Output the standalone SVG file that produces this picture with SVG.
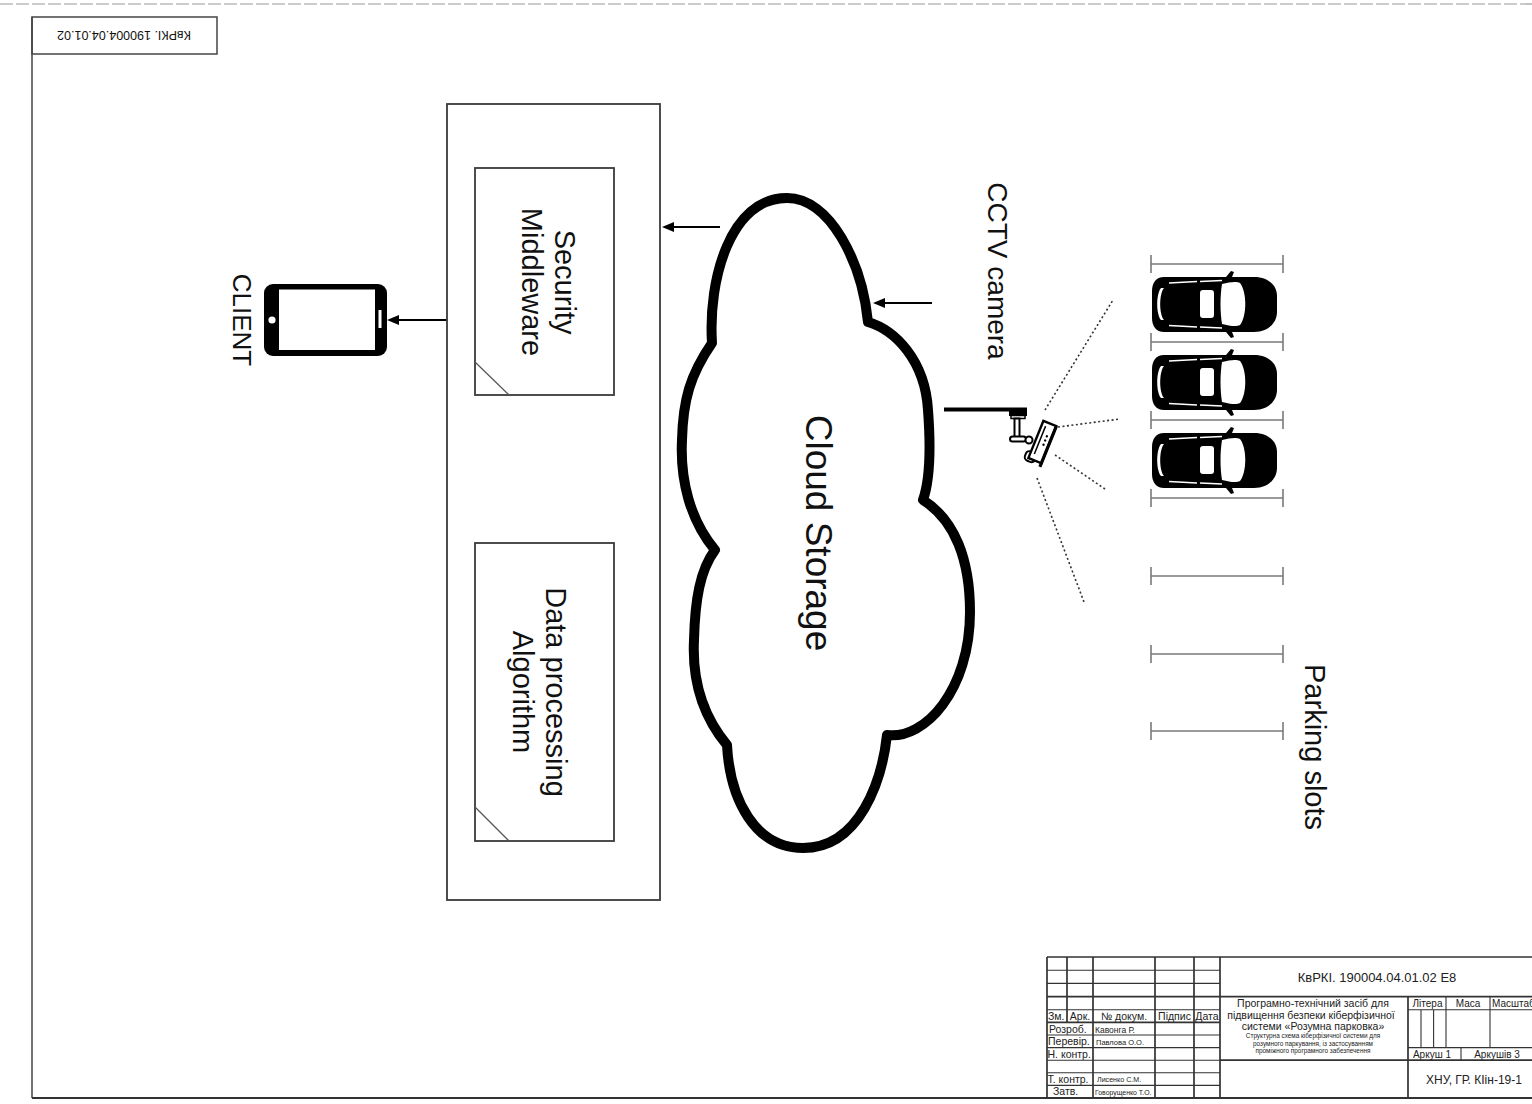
<svg xmlns="http://www.w3.org/2000/svg" xmlns:xlink="http://www.w3.org/1999/xlink" width="1532" height="1104" viewBox="0 0 1532 1104">
  <style>
    .lbl { font-family: "Liberation Sans", Arial, sans-serif; fill: #111; }
    .box { fill: #fff; stroke: #3a3a3a; stroke-width: 1.8; }
    .frame { fill: none; stroke: #444; stroke-width: 1.5; }
    .link { stroke: #000; stroke-width: 2; fill: none; }
    .view { stroke: #333; stroke-width: 1.6; stroke-dasharray: 2 2.5; fill: none; }
    .slot { stroke: #7a7a7a; stroke-width: 1.6; fill: none; }
    .tb { stroke: #333; stroke-width: 1.1; fill: none; }
    .tbb { stroke: #333; stroke-width: 1.7; fill: none; }
    .tt { font-family: "Liberation Sans", Arial, sans-serif; fill: #222; }
  </style>
  <defs>
    <marker id="arr" markerUnits="userSpaceOnUse" markerWidth="12" markerHeight="10" refX="0" refY="5" orient="auto">
      <path d="M0,0 L12,5 L0,10 Z" fill="#000"/>
    </marker>
    <!-- top view of a parked car, nose to the right -->
    <g id="car">
      <path d="M-50,-27 L40,-27 C55,-27 63,-18 63,-8 L63,8 C63,18 55,28 40,28 L-50,28 C-58,28 -62,22 -62,14 L-62,-13 C-62,-21 -58,-27 -50,-27 Z" fill="#000"/>
      <path d="M12,-27 L17,-33 L20,-32 L18,-27 Z M12,28 L17,34 L20,33 L18,28 Z" fill="#000"/>
      <path d="M8,-20 C16,-22 22,-23 26,-21 C33,-12 33,12 26,21 C22,23 16,22 8,20 C6,8 6,-8 8,-20 Z" fill="#fff"/>
      <rect x="-14" y="-14" width="14" height="28" rx="3" fill="#fff"/>
      <path d="M-50,-16 C-55,-10 -55,10 -50,16 L-53,16 C-58,10 -58,-10 -53,-16 Z" fill="#fff"/>
      <path d="M-45,-21 L-17,-22.5 M-14,-22.5 L8,-23.5 M-45,21.5 L-17,23 M-14,23 L8,24" stroke="#fff" stroke-width="1.6" fill="none"/>
    </g>
  </defs>

  <!-- sheet border -->
  <g id="sheet">
    <line x1="0" y1="4" x2="1532" y2="4" stroke="#999" stroke-width="1.2" stroke-dasharray="13 3"/>
    <line x1="32" y1="17" x2="32" y2="1098" class="frame"/>
    <line x1="32" y1="1098" x2="1532" y2="1098" stroke="#333" stroke-width="2.2"/>
    <rect x="32" y="17" width="185" height="37" class="frame"/>
    <text class="lbl" x="124" y="39.5" font-size="12.5" text-anchor="middle" transform="rotate(180 124 35)">КвРКІ. 190004.04.01.02</text>
  </g>

  <!-- connectors -->
  <g id="connectors">
    <line x1="447" y1="320" x2="399" y2="320" class="link" marker-end="url(#arr)"/>
    <line x1="720" y1="227" x2="674" y2="227" class="link" marker-end="url(#arr)"/>
    <line x1="932" y1="303" x2="885" y2="303" class="link" marker-end="url(#arr)"/>
  </g>

  <!-- client device -->
  <g id="client">
    <rect x="264" y="284" width="123" height="72" rx="9" fill="#000"/>
    <rect x="279" y="289.5" width="96" height="60.5" fill="#fff"/>
    <circle cx="272" cy="320" r="3.6" fill="#fff"/>
    <rect x="378.5" y="310" width="3" height="18" fill="#fff"/>
    <text class="lbl" font-size="26" text-anchor="middle" transform="translate(233 320) rotate(90)">CLIENT</text>
  </g>

  <!-- server side container -->
  <g id="server">
    <rect x="447" y="104" width="213" height="796" class="box" stroke-width="1.6"/>
  </g>

  <g id="security-middleware">
    <rect x="475" y="168" width="139" height="227" class="box"/>
    <line x1="475" y1="362" x2="509" y2="395" stroke="#555" stroke-width="1.2"/>
    <text class="lbl" font-size="29" text-anchor="middle" transform="translate(555 282) rotate(90)">Security</text>
    <text class="lbl" font-size="29" text-anchor="middle" transform="translate(522 282) rotate(90)">Middleware</text>
  </g>

  <g id="data-processing">
    <rect x="475" y="543" width="139" height="298" class="box"/>
    <line x1="475" y1="807" x2="509" y2="841" stroke="#555" stroke-width="1.2"/>
    <text class="lbl" font-size="29" text-anchor="middle" transform="translate(546 692) rotate(90)">Data processing</text>
    <text class="lbl" font-size="29" text-anchor="middle" transform="translate(513 692) rotate(90)">Algorithm</text>
  </g>

  <!-- cloud storage -->
  <g id="cloud-storage">
    <path d="M712,343 C708,280 730,198 787,198 C830,198 862,262 868,322 C895,330 925,360 928,410 C931,450 930,480 923,500 C955,520 970,560 970,612 C970,690 925,740 887,735 C882,780 860,848 803,848 C755,848 730,800 727,745 C702,715 692,680 694,640 C695,600 700,570 715,550 C690,520 680,480 682,440 C683,400 690,375 712,343 Z" fill="#fff" stroke="#000" stroke-width="10" stroke-linejoin="round"/>
    <text class="lbl" font-size="37" text-anchor="middle" transform="translate(806 533) rotate(90)">Cloud Storage</text>
  </g>

  <!-- CCTV camera on its wall bracket -->
  <g id="cctv-camera">
    <rect x="944" y="407.5" width="83" height="4" fill="#000"/>
    <rect x="1009" y="411" width="18" height="5" fill="#000"/>
    <rect x="1011" y="415.5" width="14" height="3" fill="#fff" stroke="#000" stroke-width="1.5"/>
    <rect x="1014.5" y="418.5" width="5" height="18.5" fill="#fff" stroke="#000" stroke-width="2"/>
    <rect x="1010" y="436.5" width="16" height="5" rx="2.5" fill="#fff" stroke="#000" stroke-width="2"/>
    <circle cx="1029" cy="440" r="3.5" fill="#fff" stroke="#000" stroke-width="2"/>
    <g transform="translate(1042 443) rotate(22)">
      <rect x="-11" y="12" width="11" height="10" rx="4" fill="#fff" stroke="#000" stroke-width="2"/>
      <rect x="-7" y="-21" width="14" height="40" fill="#fff" stroke="#000" stroke-width="2.4"/>
      <line x1="-3" y1="-17" x2="-3" y2="13" stroke="#000" stroke-width="1.5"/>
      <line x1="7" y1="-21" x2="7" y2="23" stroke="#000" stroke-width="3.2"/>
      <circle cx="2" cy="-8" r="1.2" fill="#000"/>
      <circle cx="2" cy="-3.5" r="1.2" fill="#000"/>
      <circle cx="2" cy="1" r="1.2" fill="#000"/>
    </g>
    <line x1="1045" y1="410" x2="1113" y2="300" class="view"/>
    <line x1="1058" y1="427" x2="1120" y2="419" class="view"/>
    <line x1="1055" y1="455" x2="1105" y2="489" class="view"/>
    <line x1="1037" y1="478" x2="1084" y2="602" class="view"/>
    <text class="lbl" font-size="28" text-anchor="middle" transform="translate(988 271) rotate(90)">CCTV camera</text>
  </g>

  <!-- parking slots -->
  <g id="parking-slots">
    <path class="slot" d="M1151,264 H1283 M1151,255 V273 M1283,255 V273"/>
    <path class="slot" d="M1151,342 H1283 M1151,333 V351 M1283,333 V351"/>
    <path class="slot" d="M1151,420 H1283 M1151,411 V429 M1283,411 V429"/>
    <path class="slot" d="M1151,498 H1283 M1151,489 V507 M1283,489 V507"/>
    <path class="slot" d="M1151,576 H1283 M1151,567 V585 M1283,567 V585"/>
    <path class="slot" d="M1151,654 H1283 M1151,645 V663 M1283,645 V663"/>
    <path class="slot" d="M1151,731 H1283 M1151,722 V740 M1283,722 V740"/>
    <use xlink:href="#car" href="#car" x="1214" y="304"/>
    <use xlink:href="#car" href="#car" x="1214" y="382"/>
    <use xlink:href="#car" href="#car" x="1214" y="460"/>
    <text class="lbl" font-size="29" text-anchor="middle" transform="translate(1305 747) rotate(90)">Parking slots</text>
  </g>

  <!-- title block -->
  <g id="title-block">
    <path class="tbb" d="M1047,957 H1532 M1047,957 V1098 M1067,957 V1022.4 M1093,957 V1098 M1155,957 V1098 M1194,957 V1098 M1220,957 V1098 M1408,996.6 V1098"/>
    <path class="tb" d="M1047,970.2 H1220 M1047,983.4 H1220 M1047,1009.8 H1220 M1047,1035 H1220 M1047,1047.6 H1220 M1047,1060.2 H1220 M1047,1072.8 H1220 M1047,1085.4 H1220"/>
    <path class="tbb" d="M1047,996.6 H1532 M1047,1022.4 H1220 M1220,1060.2 H1532"/>
    <path class="tb" d="M1408,1009.8 H1532 M1408,1047.6 H1532 M1421,1009.8 V1047.6 M1433.6,1009.8 V1047.6 M1446,996.6 V1047.6 M1490,996.6 V1047.6 M1461,1047.6 V1060.2"/>

    <text class="tt" x="1377" y="981.5" font-size="13" text-anchor="middle">КвРКІ. 190004.04.01.02 E8</text>

    <g font-size="10.5">
      <text class="tt" x="1048" y="1019.5">Зм.</text>
      <text class="tt" x="1080" y="1019.5" text-anchor="middle">Арк.</text>
      <text class="tt" x="1124" y="1019.5" text-anchor="middle">№ докум.</text>
      <text class="tt" x="1174.5" y="1019.5" text-anchor="middle">Підпис</text>
      <text class="tt" x="1207" y="1019.5" text-anchor="middle">Дата</text>
      <text class="tt" x="1049" y="1032.5">Розроб.</text>
      <text class="tt" x="1048" y="1045">Перевір.</text>
      <text class="tt" x="1047.5" y="1057.5">Н. контр.</text>
      <text class="tt" x="1047.5" y="1083">Т. контр.</text>
      <text class="tt" x="1053" y="1095">Затв.</text>
    </g>
    <text class="tt" x="1095" y="1032.5" font-size="8.5">Кавонга Р.</text>
    <text class="tt" x="1096" y="1044.5" font-size="7.5">Павлова О.О.</text>
    <text class="tt" x="1097" y="1082" font-size="7.1">Лисенко С.М.</text>
    <text class="tt" x="1095" y="1094.5" font-size="6.9">Говорущенко Т.О.</text>

    <g text-anchor="middle">
      <text class="tt" x="1313" y="1006.5" font-size="10.5">Програмно-технічний засіб для</text>
      <text class="tt" x="1311" y="1018.5" font-size="10.5">підвищення безпеки кіберфізичної</text>
      <text class="tt" x="1313" y="1030" font-size="10.5">системи «Розумна парковка»</text>
      <text class="tt" x="1313" y="1038" font-size="6.4">Структурна схема кіберфізичної системи для</text>
      <text class="tt" x="1313" y="1045.5" font-size="6.4">розумного паркування, із застосуванням</text>
      <text class="tt" x="1313" y="1053" font-size="6.4">проміжного програмного забезпечення</text>
    </g>

    <g font-size="10">
      <text class="tt" x="1427.5" y="1006.5" text-anchor="middle">Літера</text>
      <text class="tt" x="1468" y="1006.5" text-anchor="middle">Маса</text>
      <text class="tt" x="1492" y="1006.5">Масштаб</text>
      <text class="tt" x="1432" y="1057.5" text-anchor="middle">Аркуш 1</text>
      <text class="tt" x="1497" y="1057.5" text-anchor="middle">Аркушів 3</text>
    </g>
    <text class="tt" x="1426" y="1084" font-size="12">ХНУ, ГР. КІін-19-1</text>
  </g>
</svg>
